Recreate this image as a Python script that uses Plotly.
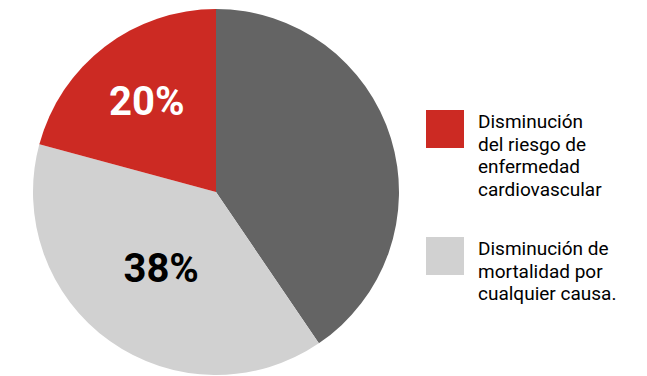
import plotly.graph_objects as go

# Data (shares of the circle, clockwise from 12 o'clock)
categories = ["Resto", "Disminución de<br>mortalidad por<br>cualquier causa.",
              "Disminución<br>del riesgo de<br>enfermedad<br>cardiovascular"]
values = [40.5, 38.7, 20.8]
slice_labels = ["", "38%", "20%"]
colors = ["#646464", "#D1D1D1", "#CC2A23"]
text_colors = ["#646464", "#000000", "#FFFFFF"]
legend_order = [2, 1]  # red first, then light gray

W, H = 647, 376

fig = go.Figure()
fig.add_trace(go.Pie(
    labels=categories,
    values=values,
    text=slice_labels,
    textinfo="text",
    textposition="inside",
    insidetextorientation="horizontal",
    insidetextfont=dict(family="Roboto", size=40, color=text_colors, weight="bold"),
    marker=dict(colors=colors, line=dict(width=0)),
    sort=False,
    direction="clockwise",
    rotation=0,
    showlegend=False,
    hoverinfo="skip",
    domain=dict(x=[33 / W, 399 / W], y=[1 / H, 367 / H]),
))

# Custom legend with large square swatches
sw_x0, sw_size = 426, 38
txt_x = 477
line_h = 22.5
block_tops = [110, 237]
shapes = []
annotations = []
for b, idx in enumerate(legend_order):
    top = block_tops[b]
    shapes.append(dict(type="rect", xref="paper", yref="paper",
                       x0=sw_x0 / W, x1=(sw_x0 + sw_size) / W,
                       y0=1 - (top + sw_size) / H, y1=1 - top / H,
                       fillcolor=colors[idx], line=dict(width=0)))
    for i, line in enumerate(categories[idx].split("<br>")):
        ytop = top - 1 + i * line_h
        annotations.append(dict(xref="paper", yref="paper",
                                x=txt_x / W, y=1 - ytop / H,
                                xanchor="left", yanchor="top",
                                text=line, showarrow=False, borderpad=0,
                                font=dict(family="Roboto", size=19, color="#000000")))

fig.update_layout(
    width=W, height=H,
    margin=dict(l=0, r=0, t=0, b=0),
    paper_bgcolor="white",
    plot_bgcolor="white",
    shapes=shapes,
    annotations=annotations,
)

fig.write_html("out.html", config={"displayModeBar": False})
